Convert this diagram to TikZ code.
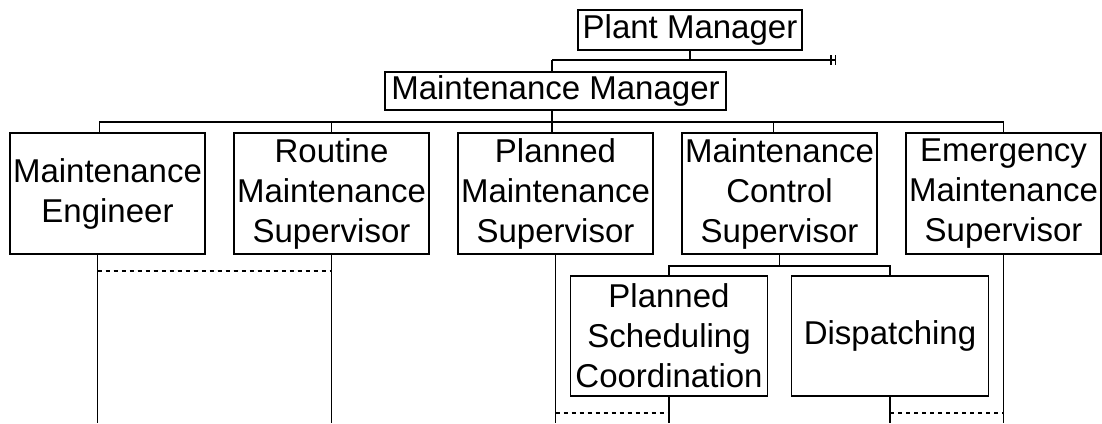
\documentclass[tikz,border=0pt]{standalone}
\usepackage{fontspec}
\setmainfont{Liberation Sans}
\usepackage{tikz}
\usetikzlibrary{arrows.meta, positioning}
\tikzstyle{topbox} = [rectangle, draw=black, line width=1.5pt, inner sep=2pt, align=center, font=\fontsize{33}{40}\selectfont]
\tikzstyle{unitbox} = [rectangle, draw=black, line width=1.5pt, minimum width=195pt, minimum height=121pt, inner sep=2pt, align=center, font=\fontsize{33}{40}\selectfont]
\tikzstyle{subbox} = [unitbox, minimum width=197pt, minimum height=120pt]
\tikzstyle{line} = [line width=1.5pt]
\tikzstyle{dotline} = [line width=1.2pt, dash pattern=on 4pt off 4pt]
\tikzstyle{endbar} = [line width=1.5pt, -{Bar[width=10pt,sep=3pt]Bar[width=10pt]}]
\begin{document}
\begin{tikzpicture}[x=1pt, y=-1pt, node distance=0pt and 27.5pt]
	\useasboundingbox (0,0) rectangle (1102,423);
	\node (plant) [topbox, minimum width=224pt, minimum height=40pt] at (690,30) {Plant Manager};
	\node (maint) [topbox, minimum width=341pt, minimum height=38pt] at (555.5,91) {Maintenance Manager};
	
	\node (engineer) [unitbox] at (107.5,193.5) {Maintenance\\Engineer};
	\node (routine) [unitbox, right=of engineer] {Routine\\Maintenance\\Supervisor};
	\node (planned) [unitbox, right=of routine] {Planned\\Maintenance\\Supervisor};
	\node (control) [unitbox, right=of planned] {Maintenance\\Control\\Supervisor};
	\node (emergency) [unitbox, right=of control] {Emergency\\Maintenance\\Supervisor};
	
	\node (scheduling) [subbox] at (669,336) {Planned\\Scheduling\\Coordination};
	\node (dispatch) [subbox, right=22.5pt of scheduling] {Dispatching};
	
	\coordinate (bus) at (552,60);
	\coordinate (busend) at (836,60);
	\coordinate (rowbus) at (552,122);
	\coordinate (subbus) at ([yshift=-11pt]control.south);
	\coordinate (floor) at (0,423);
	\coordinate (dotA) at (0,271);
	\coordinate (dotB) at (0,413);
	
	\draw [line] (plant) -- (plant |- bus);
	\draw [endbar] (bus) -- (busend);
	\draw [line] (bus) -- (bus |- maint.north);
	\draw [line] (rowbus |- maint.south) -- (rowbus);
	
	\draw [line] (rowbus) -| ([xshift=-8pt]engineer.north);
	\draw [line] (rowbus) -| (routine.north);
	\draw [line] (rowbus) -| ([xshift=-3.5pt]planned.north);
	\draw [line] (rowbus) -| ([xshift=-6pt]control.north);
	\draw [line] (rowbus) -| (emergency.north);
	
	\draw [line] (control) -- (subbus);
	\draw [line] (subbus) -| (scheduling.north);
	\draw [line] (subbus) -| (dispatch.north);
	
	\draw [line] ([xshift=-10pt]engineer.south) -- ([xshift=-10pt]engineer.south |- floor);
	\foreach \n in {routine, planned, emergency, scheduling, dispatch}
		\draw [line] (\n) -- (\n |- floor);
	
	\draw [dotline] ([xshift=-10pt]engineer.south |- dotA) -- (routine |- dotA);
	\draw [dotline] (planned |- dotB) -- (scheduling |- dotB);
	\draw [dotline] (dispatch |- dotB) -- (emergency |- dotB);
	
\end{tikzpicture}
\end{document}
